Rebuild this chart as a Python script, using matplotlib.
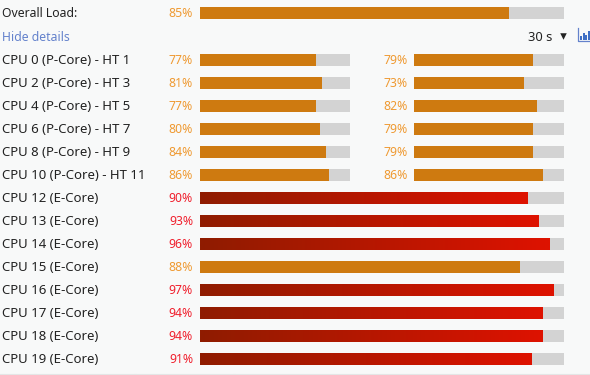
import numpy as np
import matplotlib
matplotlib.use('Agg')
import matplotlib.pyplot as plt

overall_label = 'Overall Load:'
overall_value = 85

# hyperthreaded cores have two values, one per thread
p_labels = ['CPU 0 (P-Core) - HT 1', 'CPU 2 (P-Core) - HT 3', 'CPU 4 (P-Core) - HT 5',
            'CPU 6 (P-Core) - HT 7', 'CPU 8 (P-Core) - HT 9', 'CPU 10 (P-Core) - HT 11']
p_values = [77, 81, 77, 80, 84, 86]
ht_values = [79, 73, 82, 79, 79, 86]

e_labels = ['CPU 12 (E-Core)', 'CPU 13 (E-Core)', 'CPU 14 (E-Core)', 'CPU 15 (E-Core)',
            'CPU 16 (E-Core)', 'CPU 17 (E-Core)', 'CPU 18 (E-Core)', 'CPU 19 (E-Core)']
e_values = [90, 93, 96, 88, 97, 94, 94, 91]

icon_bars = [4, 7, 5, 9, 6]

BG = '#f8f9f9'
TRACK = '#d3d3d3'
ORANGE = '#ce7a10'
ORANGE_TEXT = '#ef9a32'
RED_TEXT = '#f0202e'
TEXT = '#222222'
HOT = 90  # above this the bar goes red
FS = 8.8
FS_CPU = 9.5  # cpu names run wider than the rest in the original
TEXT_UP = 0.8

plt.rcParams['font.family'] = ['Noto Sans', 'DejaVu Sans']

fig = plt.figure(figsize=(5.9, 3.75), dpi=100, facecolor=BG)
ax = fig.add_axes([0, 0, 1, 1])
ax.set_xlim(0, 590)
ax.set_ylim(375, 0)
ax.axis('off')

gradient = np.linspace(0, 1, 256).reshape(1, -1)
cmap = matplotlib.colors.LinearSegmentedColormap.from_list('hot', ['#8f1c00', '#de1200'])


def draw_bar(x, y, width, value):
    ax.barh(y, width, height=12, left=x, color=TRACK, linewidth=0)
    fill = width * value / 100
    if value >= HOT:
        ax.imshow(gradient, extent=(x, x + fill, y + 6, y - 6), cmap=cmap, aspect='auto', zorder=3)
    else:
        ax.barh(y, fill, height=12, left=x, color=ORANGE, linewidth=0, zorder=3)


def draw_pct(x, y, value):
    ax.text(x, y - TEXT_UP, f'{value}%', ha='right', va='center_baseline', fontsize=FS,
            color=RED_TEXT if value >= HOT else ORANGE_TEXT)


def draw_label(y, label, size=FS_CPU):
    ax.text(1.5, y - TEXT_UP, label, ha='left', va='center_baseline', fontsize=size, color=TEXT)


# overall row
draw_label(13, overall_label, FS)
draw_pct(193, 13, overall_value)
draw_bar(200, 13, 364, overall_value)

# controls row
ax.text(1.5, 36, 'Hide details', ha='left', va='center_baseline', fontsize=FS, color='#6482cc')
ax.text(528, 36, '30 s', ha='left', va='center_baseline', fontsize=9.3, color=TEXT)
ax.scatter([562.5], [35.5], marker='v', s=22, color='#222222', linewidth=0)

# little chart icon
ax.plot([578, 578, 590], [28, 40.5, 40.5], color='#6482cc', lw=0.9)
for i, h in enumerate(icon_bars):
    ax.bar(581 + i * 2.6, h, width=1.8, bottom=40 - h, color='#3f6fc4', linewidth=0)

# P-core rows
for i, label in enumerate(p_labels):
    y = 60 + 23 * i
    draw_label(y, label)
    draw_pct(193, y, p_values[i])
    draw_bar(200, y, 150, p_values[i])
    draw_pct(408, y, ht_values[i])
    draw_bar(414, y, 150, ht_values[i])

# E-core rows
for i, label in enumerate(e_labels):
    y = 198 + 23 * i
    draw_label(y, label)
    draw_pct(193, y, e_values[i])
    draw_bar(200, y, 364, e_values[i])

# table border at the bottom edge
ax.plot([0, 590], [373.5, 373.5], color='#e4e6e6', lw=0.8)
for x in [34.5, 134.5, 233.5]:
    ax.plot([x, x], [373.5, 375], color='#e4e6e6', lw=0.8)

ax.set_xlim(0, 590)
ax.set_ylim(375, 0)
fig.savefig('out.png', dpi=100, facecolor=BG)
